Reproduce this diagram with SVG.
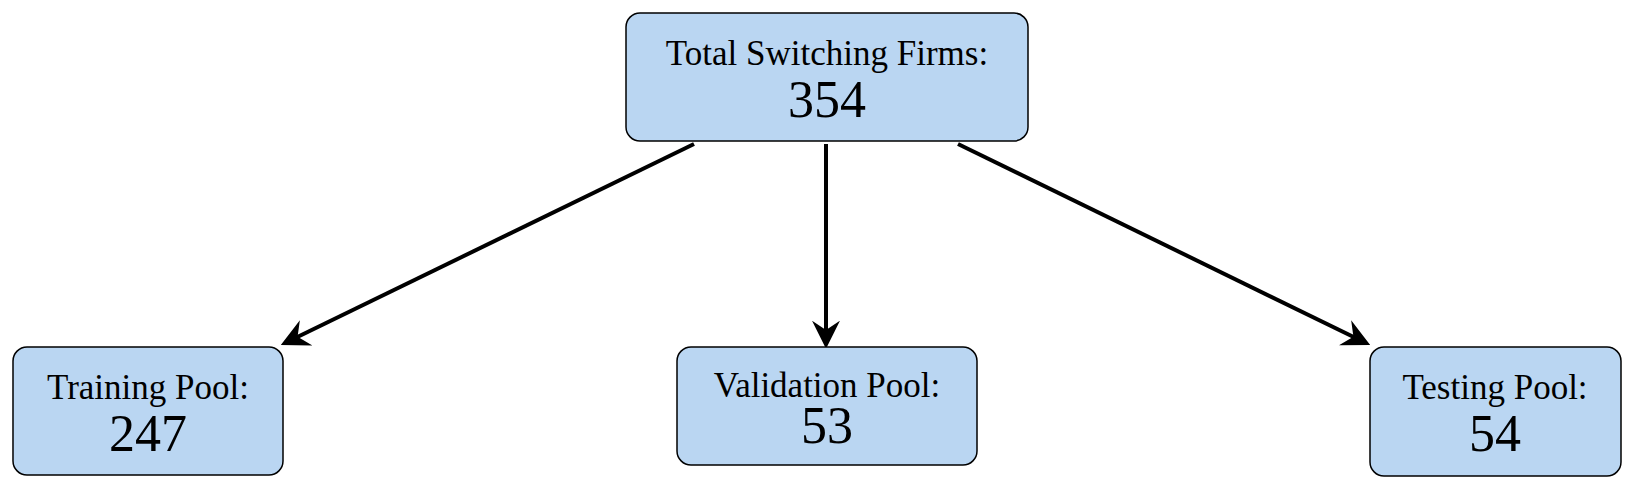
<svg xmlns="http://www.w3.org/2000/svg" width="1634" height="489" viewBox="0 0 1634 489">
<defs>
<style>
.box{fill:#bad6f2;stroke:#000;stroke-width:1.5}
.t{font-family:"Liberation Serif",serif;text-anchor:middle;fill:#000}
.s{font-size:35px}.b{font-size:52px}
.c{stroke:#000;stroke-width:4;fill:none;marker-end:url(#ah)}
</style>
<marker id="ah" viewBox="0 0 12 12" refX="10" refY="6" markerWidth="7" markerHeight="7" orient="auto" markerUnits="strokeWidth">
<path d="M0,0 L12,6 L0,12 L4,6 Z" fill="#000"/>
</marker>
</defs>
<g id="connectors">
<line class="c" x1="694" y1="144" x2="285" y2="343"/>
<line class="c" x1="826" y1="144" x2="826" y2="344"/>
<line class="c" x1="958" y1="144" x2="1366" y2="343"/>
</g>
<g id="total"><rect class="box" x="626" y="13" width="402" height="128" rx="14"/>
<text class="t s" x="827" y="65">Total Switching Firms:</text><text class="t b" x="827" y="117">354</text></g>
<g id="training"><rect class="box" x="13" y="347" width="270" height="128" rx="14"/>
<text class="t s" x="148" y="399">Training Pool:</text><text class="t b" x="148" y="451">247</text></g>
<g id="validation"><rect class="box" x="677" y="347" width="300" height="118" rx="14"/>
<text class="t s" x="827" y="397">Validation Pool:</text><text class="t b" x="827" y="443">53</text></g>
<g id="testing"><rect class="box" x="1370" y="347" width="251" height="129" rx="14"/>
<text class="t s" x="1495" y="399">Testing Pool:</text><text class="t b" x="1495" y="451">54</text></g>
</svg>
